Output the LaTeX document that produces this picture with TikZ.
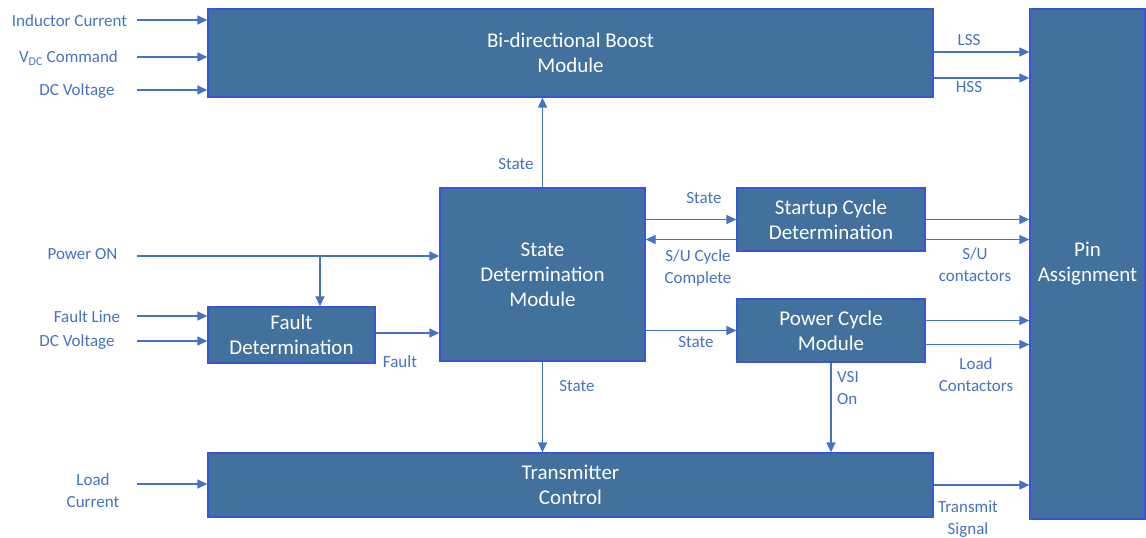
\documentclass[tikz,border=0pt]{standalone}
\usepackage{fontspec}
\setmainfont{Carlito}
\usetikzlibrary{arrows.meta}
\definecolor{boxfill}{HTML}{41719C}
\definecolor{boxline}{HTML}{3A55D8}
\definecolor{wire}{HTML}{4472C4}

\begin{document}
\begin{tikzpicture}[line join=miter,>={Triangle[length=10pt,width=9pt]},x=1pt,y=-1pt,
    blk/.style={draw=boxline,line width=1.3pt,fill=boxfill,text=white,align=center,inner sep=0pt,
        font=\fontsize{21}{25}\selectfont},
    lbl/.style={text=wire,align=center,inner sep=0pt,font=\fontsize{17}{22}\selectfont},
    wire/.style={draw=wire,line width=1.3pt}]
    \useasboundingbox (0,0) rectangle (1146,538);
    % blocks
    \node[blk,minimum width=725pt,minimum height=88pt] (boost) at (570.5,53) {Bi-directional Boost\\Module};
    \node[blk,minimum width=115pt,minimum height=510pt] (pin) at (1087.5,264) {Pin\\Assignment};
    \node[blk,minimum width=205pt,minimum height=173pt] (state) at (542.5,274.5) {State\\Determination\\Module};
    \node[blk,minimum width=188pt,minimum height=63pt] (startup) at (831,219.5) {Startup Cycle\\Determination};
    \node[blk,minimum width=188pt,minimum height=63pt] (power) at (831,330.5) {Power Cycle\\Module};
    \node[blk,minimum width=167pt,minimum height=56pt] (fault) at (291.5,335) {Fault\\Determination};
    \node[blk,minimum width=725pt,minimum height=64pt] (tx) at (570.5,485) {Transmitter\\Control};
    % input labels
    \node[lbl] (lIC) at (69.5,21) {Inductor Current};
    \node[lbl] (lVdc) at (68.5,58) {V\textsubscript{DC} Command};
    \node[lbl] (lDCa) at (77,91) {DC Voltage};
    \node[lbl] (lPon) at (82.5,254) {Power ON};
    \node[lbl] (lFL) at (87,317) {Fault Line};
    \node[lbl] (lDCb) at (77,342) {DC Voltage};
    \node[lbl] (lLC) at (93,491) {Load\\Current};
    % inputs
    \foreach \y/\n in {20/a,57/b,90/c,316/d,341/e,484/f}
        \coordinate (src\n) at (137,\y);
    \foreach \n in {a,b,c}
        \draw[wire,->] (src\n) -- (src\n -| boost.west);
    \foreach \n in {d,e}
        \draw[wire,->] (src\n) -- (src\n -| fault.west);
    \draw[wire,->] (srcf) -- (srcf -| tx.west);
    \coordinate (pon) at (137,256);
    \coordinate (tap) at (320,256);
    \draw[wire,->] (pon) -- (pon -| state.west);
    \draw[wire,->] (tap) -- (tap |- fault.north);
    % internal signals
    \draw[wire,->] ([yshift=2pt]fault.east) -- ([yshift=2pt]fault.east -| state.west);
    \draw[wire,->] (state.north) -- (state.north |- boost.south);
    \draw[wire,->] (state.south) -- (state.south |- tx.north);
    \draw[wire,->] (power.south) -- (power.south |- tx.north);
    \draw[wire,->] (startup.west -| state.east) -- (startup.west);
    \draw[wire,->] ([yshift=-20pt]startup.west) -- ([yshift=-20pt]startup.west -| state.east);
    \draw[wire,->] (power.west -| state.east) -- (power.west);
    % outputs
    \draw[wire,->] ([yshift=1pt]boost.east) -- ([yshift=1pt]boost.east -| pin.west);
    \draw[wire,->] ([yshift=-25pt]boost.east) -- ([yshift=-25pt]boost.east -| pin.west);
    \draw[wire,->] (startup.east) -- (startup.east -| pin.west);
    \draw[wire,->] ([yshift=-20pt]startup.east) -- ([yshift=-20pt]startup.east -| pin.west);
    \draw[wire,->] ([yshift=10pt]power.east) -- ([yshift=10pt]power.east -| pin.west);
    \draw[wire,->] ([yshift=-14pt]power.east) -- ([yshift=-14pt]power.east -| pin.west);
    \draw[wire,->] (tx.east) -- (tx.east -| pin.west);
    % signal labels
    \node[lbl] (lLSS) at (969,40) {LSS};
    \node[lbl] (lHSS) at (969,87) {HSS};
    \node[lbl] (lSt1) at (516,164) {State};
    \node[lbl] (lSt2) at (704,198) {State};
    \node[lbl] (lSUC) at (698,268) {S/U Cycle\\Complete};
    \node[lbl] (lSt3) at (696,342) {State};
    \node[lbl] (lSUc) at (975,265) {S/U\\contactors};
    \node[lbl] (lLdC) at (976,375) {Load\\Contactors};
    \node[lbl] (lFlt) at (400,362) {Fault};
    \node[lbl] (lSt4) at (577,386) {State};
    \node[lbl,align=left] (lVSI) at (848,388) {VSI\\On};
    \node[lbl] (lTS) at (968,519) {Transmit\\Signal};
\end{tikzpicture}
\end{document}
